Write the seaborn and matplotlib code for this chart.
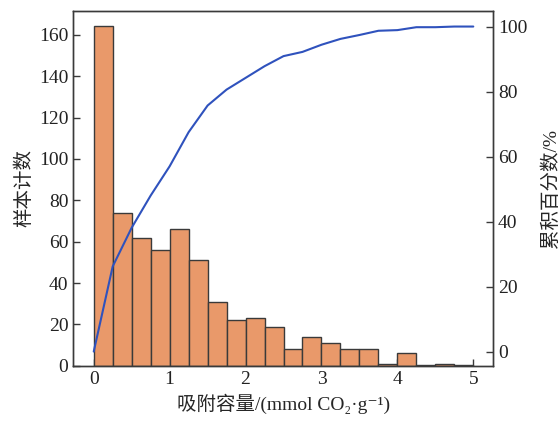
import numpy as np
import matplotlib
matplotlib.use("Agg")
import matplotlib.pyplot as plt
import seaborn as sns

# ─────────────────────────────────────────────
# DATA
# ─────────────────────────────────────────────
bin_edges = [0.0, 0.25, 0.5, 0.75, 1.0, 1.25, 1.5, 1.75, 2.0, 2.25, 2.5,
             2.75, 3.0, 3.25, 3.5, 3.75, 4.0, 4.25, 4.5, 4.75, 5.0]
counts = [164, 74, 62, 56, 66, 51, 31, 22, 23, 19,
          8, 14, 11, 8, 8, 1, 6, 0.4, 1, 0.4]
cum_pct = [0.0, 26.2, 38.1, 48.0, 57.0, 67.5, 75.7, 80.6, 84.2, 87.8, 90.9,
           92.2, 94.4, 96.2, 97.4, 98.7, 98.9, 99.8, 99.8, 100.0, 100.0]

x_ticks = [0, 1, 2, 3, 4, 5]
left_ticks = [0, 20, 40, 60, 80, 100, 120, 140, 160]
right_ticks = [0, 20, 40, 60, 80, 100]

xlabel = "吸附容量/(mmol CO₂·g⁻¹)"
ylabel_left = "样本计数"
ylabel_right = "累积百分数/%"

# ─────────────────────────────────────────────
# STYLE
# ─────────────────────────────────────────────
sns.set_theme(style="ticks")
plt.rcParams["font.family"] = ["Liberation Serif", "Noto Sans CJK SC", "DejaVu Serif"]
plt.rcParams["axes.edgecolor"] = "#3a3a3a"
plt.rcParams["axes.linewidth"] = 1.0

bar_color = "#E9996A"
line_color = "#2F52BD"
fs = 14

fig = plt.figure(figsize=(5.59, 4.21), dpi=100)
ax = fig.add_axes([0.131, 0.131, 0.751, 0.843])

centers = [(a + b) / 2 for a, b in zip(bin_edges[:-1], bin_edges[1:])]
sns.histplot(x=centers, weights=counts, bins=bin_edges, ax=ax,
             color=bar_color, alpha=1, edgecolor="#3a3a3a", linewidth=1.0)

ax.set_xlim(-0.27, 5.26)
ax.set_ylim(0, 171.5)
ax.set_xticks(x_ticks)
ax.set_yticks(left_ticks)
ax.set_xlabel(xlabel, fontsize=fs, labelpad=4)
ax.set_ylabel(ylabel_left, fontsize=fs)
ax.tick_params(direction="in", length=5, width=1.0, labelsize=fs,
               color="#3a3a3a", labelcolor="#222222")

ax2 = ax.twinx()
sns.lineplot(x=bin_edges, y=cum_pct, ax=ax2, color=line_color, linewidth=1.5)
ax2.set_ylim(-4.4, 104.8)
ax2.set_yticks(right_ticks)
ax2.set_ylabel(ylabel_right, fontsize=fs, labelpad=10)
ax2.tick_params(direction="in", length=5, width=1.0, labelsize=fs,
                color="#3a3a3a", labelcolor="#222222")

fig.savefig("out.png", dpi=100)
